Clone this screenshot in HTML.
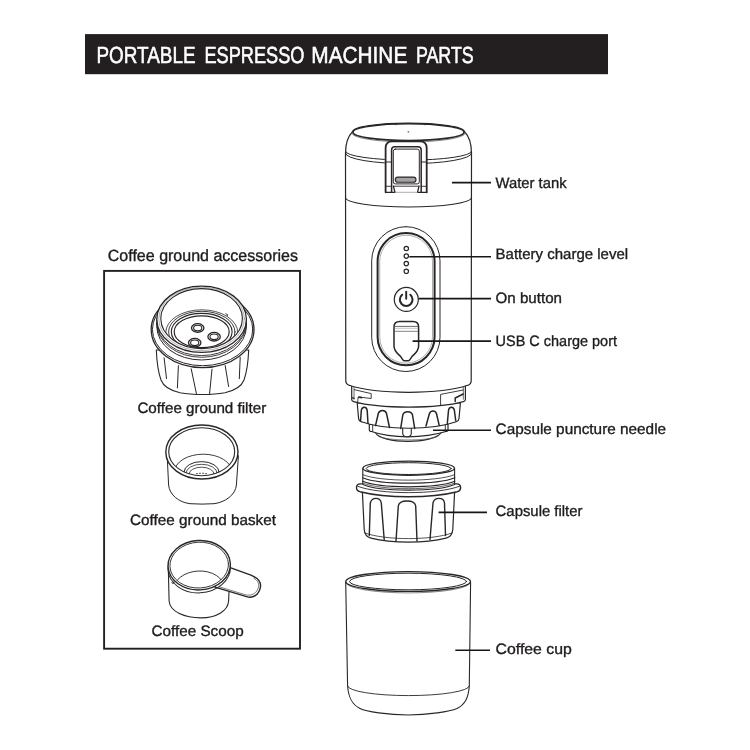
<!DOCTYPE html>
<html><head><meta charset="utf-8"><title>Portable Espresso Machine Parts</title>
<style>
html,body{margin:0;padding:0;background:#fff;}
svg{display:block;will-change:transform}
text{font-family:"Liberation Sans",sans-serif;fill:#1f1b1c;-webkit-font-smoothing:antialiased;text-rendering:geometricPrecision}
.t{font-size:15px;stroke:#1f1b1c;stroke-width:.35px}
.s{fill:none;stroke:#2a2627;stroke-width:1;stroke-linecap:round;stroke-linejoin:round}
.w{fill:#fff;stroke:#2a2627;stroke-width:1;stroke-linecap:round;stroke-linejoin:round}
.th{stroke-width:1.5}
.ld{stroke:#1a1617;stroke-width:1.6;fill:none}
</style></head><body>
<svg width="750" height="750" viewBox="0 0 750 750">
<rect width="750" height="750" fill="#fff"/>
<!-- header -->
<rect x="85" y="34.1" width="523" height="40.1" fill="#231f20"/>
<text x="96.4" y="62.8" style="font-size:23.3px;fill:#fff;stroke:#fff;stroke-width:.55px"><tspan x="96.5" textLength="99" lengthAdjust="spacingAndGlyphs">PORTABLE</tspan> <tspan x="204.4" textLength="100" lengthAdjust="spacingAndGlyphs">ESPRESSO</tspan> <tspan x="311.3" textLength="96" lengthAdjust="spacingAndGlyphs">MACHINE</tspan> <tspan x="415.9" textLength="57.8" lengthAdjust="spacingAndGlyphs">PARTS</tspan></text>

<!-- accessory box -->
<text class="t" x="107.8" y="260.8" style="font-size:16.2px" textLength="190.2" lengthAdjust="spacingAndGlyphs">Coffee ground accessories</text>
<rect x="104.1" y="270.9" width="195.9" height="377.8" fill="none" stroke="#231f20" stroke-width="1.9"/>
<text class="t" x="137.4" y="412.7" textLength="128.8" lengthAdjust="spacingAndGlyphs">Coffee ground filter</text>
<text class="t" x="130" y="525" textLength="146" lengthAdjust="spacingAndGlyphs">Coffee ground basket</text>
<text class="t" x="151.5" y="635.8" textLength="92.2" lengthAdjust="spacingAndGlyphs">Coffee Scoop</text>

<!-- labels -->
<text class="t" x="495.6" y="187.7" textLength="71" lengthAdjust="spacingAndGlyphs">Water tank</text>
<text class="t" x="495.6" y="259.4" textLength="132.5" lengthAdjust="spacingAndGlyphs">Battery charge level</text>
<text class="t" x="495.6" y="303.4" textLength="66.4" lengthAdjust="spacingAndGlyphs">On button</text>
<text class="t" x="495.6" y="345.6" textLength="121.4" lengthAdjust="spacingAndGlyphs">USB C charge port</text>
<text class="t" x="495.6" y="433.5" textLength="170.5" lengthAdjust="spacingAndGlyphs">Capsule puncture needle</text>
<text class="t" x="495.6" y="516.4" textLength="86.9" lengthAdjust="spacingAndGlyphs">Capsule filter</text>
<text class="t" x="495.6" y="654" textLength="76.2" lengthAdjust="spacingAndGlyphs">Coffee cup</text>

<!--BASE-->
<g id="machine-base">
<!-- lower ring bottom ellipse -->
<path class="w" d="M375.300,432.500 C381,444.300 434,444.300 441.300,432.500 Z" style="stroke-width:1.1"/>
<path class="s" d="M378.500,436.300 C386,441.200 430,441.200 438,436.300" style="stroke-width:.7;stroke:#555"/>
<!-- lower ring -->
<path class="w" d="M369.300,424.500 L369.300,430 Q369.300,431 370.500,431.300 C392,438.600 423,438.600 446.800,431.300 Q448,431 448,430 L448,424.500 Z" style="stroke-width:1.2"/>
<path class="s" d="M372.700,425 v6.600 M445.300,425 v6.600" style="stroke-width:.9"/>
<!-- needle -->
<path class="w" d="M402.700,427.500 L402.700,433.300 Q402.700,436.700 407,436.700 Q411.300,436.700 411.300,433.300 L411.300,427.500" style="stroke-width:1.1"/>
<!-- gear section -->
<path class="w" d="M357.200,403 L358.600,418.500 Q358.800,421 361.500,421.800 C385,430.400 432,430.400 456.200,421.800 Q458.800,421 459,418.500 L460.400,403 Z" style="stroke-width:1.2"/>
<!-- teeth -->
<path class="s" d="M360.600,420.500 L361.300,410.500 Q361.800,407.200 364.300,407.200 Q366.800,407.200 367.200,410.500 L368,423.500" style="stroke-width:1.5"/>
<path class="s" d="M375.500,425.600 L378.300,413.500 Q379.200,410.400 382.500,410.400 Q385.800,410.400 386.500,413.500 L389.500,427.500" style="stroke-width:1.5"/>
<path class="s" d="M400.700,428.400 L402.800,415 Q403.600,411.700 407.700,411.700 Q411.800,411.700 412.500,415 L414.700,428.400" style="stroke-width:1.5"/>
<path class="s" d="M426,426 L429.300,414 Q430.200,411 433,411 Q435.800,411 436.600,414 L439.200,425.400" style="stroke-width:1.5"/>
<path class="s" d="M447.300,423.500 L448.500,410.500 Q448.900,407.200 451.400,407.200 Q453.900,407.200 454.400,410.500 L455.700,420.500" style="stroke-width:1.5"/>
<!-- ring 1 -->
<path class="w" d="M351.700,385 L351.700,399.500 Q351.700,401.300 353.700,401.700 C380,409 437,409 463.400,401.700 Q465.400,401.300 465.400,399.500 L465.400,385 Z" style="stroke-width:1.2"/>
<path class="s" d="M354,387.500 L354,399.300" style="stroke-width:.7"/>
<path class="s" d="M463.300,387.500 L463.300,399.300" style="stroke-width:.7"/>
<!-- clips -->
<path class="s" d="M354.400,389.700 L371.200,393.600 L371.200,398.500 L358.200,396.900 L357.700,402" style="stroke-width:.9"/>
<path class="s" d="M359,397.300 L361.500,397.600" style="stroke-width:1.600"/>
<path class="s" d="M352.500,397.800 L354,398.300" style="stroke-width:1.400"/>
<path class="s" d="M463.200,390 L440.600,394.400 L440.600,404.600" style="stroke-width:.9"/>
<path class="s" d="M463.200,394 L455.200,398 L455.200,401.600" style="stroke-width:1.500"/>
</g>
<!--/BASE-->
<!--MACHINE-->
<g id="machine">
<!-- body -->
<path class="w" d="M345.5,153 C345.600,143.500 347.600,136.500 352.700,131.500 A55.600,8.400 0 0 1 464.300,131.500 C469.400,136.500 471.400,143.500 471.5,153 L471.2,380.500 Q471.2,384.300 467.700,385.300 C440,394.600 377,394.600 349.300,385.300 Q345.800,384.300 345.800,380.500 Z" style="stroke-width:1.2"/>
<!-- lid top ellipse -->
<path class="s" d="M351.800,133.300 A56.600,8.700 0 0 0 465.200,133.300" style="stroke-width:.7;stroke:#555"/>
<ellipse class="s" cx="408.5" cy="132.200" rx="55.500" ry="8.400" style="stroke-width:1.6"/>
<path class="s" d="M396,123.400v1.400M425,123.400v1.400" style="stroke-width:.9"/>
<ellipse cx="408.4" cy="131.8" rx="1" ry="0.600" fill="#444"/>
<!-- seam -->
<path class="s" d="M345.5,151.4 A63,8.700 0 0 0 471.5,151.4" style="stroke-width:1"/>
<path class="s" d="M345.5,153.4 A63,10.300 0 0 0 471.5,153.4" style="stroke-width:1"/>
<!-- tank bottom -->
<path class="s" d="M345.5,197.600 A63,9.400 0 0 0 471.5,197.600" style="stroke-width:1.1"/>
<!-- latch -->
<path d="M385.600,192.300 L385.600,148 Q385.600,141.300 392.300,141.300 L420,141.300 Q426.700,141.300 426.700,148 L426.700,192.300 L417.500,192.300 L419,186.200 L393.400,186.200 L395,192.300 Z" fill="#fff"/>
<path class="s" d="M385.600,192.300 L385.600,148 Q385.600,141.300 392.300,141.300 L420,141.300 Q426.700,141.300 426.700,148 L426.700,192.300" style="stroke-width:1.800"/>
<path class="s" d="M385.600,192.300 L395,192.300 L393.400,186.200 M426.700,192.300 L417.500,192.300 L419,186.200" style="stroke-width:1.300"/>
<path class="s" d="M393.400,186.200 L419,186.200" style="stroke-width:.9"/>
<path class="s" d="M391.600,192 L391.600,150 Q391.600,146.800 394.800,146.800 L418,146.800 Q421.200,146.800 421.200,150 L421.200,192" style="stroke-width:1.500"/>
<rect class="s" x="393.300" y="149.100" width="26" height="34.800" rx="2" style="stroke-width:1"/>
<path class="s" d="M385.500,162 L391.600,162 M421.200,162 L426.800,162" style="stroke-width:1"/>
<path class="s" d="M395,192.300 L417.500,192.300" style="stroke-width:.7;stroke:#888"/>
<path class="s" d="M385.500,186.300 L391.600,186.300 M421.200,186.300 L426.800,186.300" style="stroke-width:.9"/>
<rect x="395.300" y="177.100" width="20.700" height="5.200" rx="2.600" fill="#a5a3a3" stroke="#2a2627" stroke-width="1.1"/>
<!-- control panel -->
<rect class="s" x="371.7" y="226.700" width="68.300" height="144.800" rx="34.150" style="stroke-width:1"/>
<rect class="s" x="377.600" y="233.100" width="57" height="132.200" rx="28.500" style="stroke-width:2"/>
<rect class="s" x="379.700" y="235.200" width="52.800" height="128" rx="26.400" style="stroke-width:.6;stroke:#777"/>
<!-- dots -->
<circle class="s" cx="406.300" cy="248.500" r="2.200" style="stroke-width:1.2"/>
<circle class="s" cx="406.300" cy="256.100" r="2.200" style="stroke-width:1.2"/>
<circle class="s" cx="406.300" cy="263.600" r="2.200" style="stroke-width:1.2"/>
<circle class="s" cx="406.300" cy="271.300" r="2.200" style="stroke-width:1.2"/>
<!-- power button -->
<circle class="s" cx="406.300" cy="299.450" r="12" style="stroke-width:1.2"/>
<path class="s" d="M402.100,294.750 A6.350,6.350 0 1 0 410.300,294.750" style="stroke-width:2"/>
<path class="s" d="M406.200,291.800 L406.200,298.700" style="stroke-width:1.9"/>
<!-- usb port -->
<path class="s" d="M394,327.200 Q394,321.600 399.600,321.600 L413,321.600 Q418.600,321.600 418.600,327.200 L418.600,346 C418.600,351.500 414.600,353.800 412.200,356.300 C410.600,358 410.200,360.700 408.300,360.700 L404.300,360.700 C402.400,360.700 402,358 400.400,356.300 C398,353.800 394,351.500 394,346 Z" style="stroke-width:1.5"/>
<path class="s" d="M395,326.400 H417.600" style="stroke-width:.8;stroke:#444"/>
<path class="s" d="M395,328.300 H417.600" style="stroke-width:.6;stroke:#999"/>
<path class="s" d="M395,331.300 H417.600" style="stroke-width:.8;stroke:#666"/>
</g>
<!--/MACHINE-->
<!--FILTERCAP-->
<g id="capfilter">
<!-- body -->
<path class="w" d="M362.300,490 L364.200,529.500 C364.600,534.500 366.500,537 371,538.200 C392,543.500 425,543.500 446,538.200 C450.500,537 452.400,534.500 452.800,529.500 L454.700,490 Z" style="stroke-width:1.2"/>
<path class="s" d="M365,533 C385,540.500 432,540.500 452,533" style="stroke-width:.8"/>
<!-- ribs -->
<path class="s" d="M369.300,535.500 L370.300,503 Q371.500,498.400 376,498.400 Q380.500,498.400 381.300,503 L384.200,539.500" style="stroke-width:1.4"/>
<path class="s" d="M396,541 L398.300,506 Q399,501 407,501 Q415,501 415.700,506 L417,541" style="stroke-width:1.4"/>
<path class="s" d="M430,539.500 L433,503 Q434,498.400 439,498.400 Q444,498.400 444.500,503 L445.500,535.500" style="stroke-width:1.4"/>
<!-- flange -->
<path class="w" d="M356.500,487.700 Q356.500,483.900 360.300,483.900 L456.800,483.900 Q460.600,483.900 460.600,487.700 Q460.600,490.700 457.300,491.700 C430,498.500 387,498.500 360,491.700 Q356.500,490.700 356.500,487.700 Z" style="stroke-width:1.4"/>
<path class="s" d="M357.700,486.300 C380,494.800 437,494.800 459.400,486.300" style="stroke-width:.9"/>
<!-- thread section -->
<path class="w" d="M362.800,468.200 L362.800,484.500 C380,492 437,492 454.600,484.500 L454.600,468.200 Z" style="stroke-width:1.1"/>
<path class="s" d="M362.800,474.700 C380,482 437,482 454.600,474.700" style="stroke-width:.8"/>
<path class="s" d="M362.600,477.700 C380,485 437,485 454.800,477.700" style="stroke-width:1.2"/>
<path class="s" d="M362.600,481.300 C380,488.600 437,488.600 454.800,481.300" style="stroke-width:1.2"/>
<path class="s" d="M363.500,483.300 C380,490.500 437,490.500 454,483.300" style="stroke-width:.7"/>
<!-- top -->
<ellipse class="w" cx="408.700" cy="468.200" rx="45.800" ry="7.100" style="stroke-width:1.3"/>
<ellipse class="s" cx="408.700" cy="468.600" rx="42.500" ry="5.900" style="stroke-width:1"/>
</g>
<!--/FILTERCAP-->
<!--CUP-->
<g id="cup">
<path class="w" d="M345.700,582 L347.600,686 C348.500,698 352,704.500 360,708.500 C366,711.500 388,715 408.100,715 C428,715 450,711.500 457,708.500 C465,704.500 468.400,698 469.300,686 L470.600,582 Z" style="stroke-width:1.1"/>
<path class="s" d="M347.600,686 A60.850,9.600 0 0 0 469.300,686" style="stroke-width:.9"/>
<path class="s" d="M345.800,582.600 A62.300,10.300 0 0 0 470.400,582.600" style="stroke-width:.7;stroke:#555"/>
<ellipse class="w" cx="408.100" cy="581.500" rx="62.300" ry="9.900" style="stroke-width:1.3"/>
<ellipse class="s" cx="408.100" cy="581.500" rx="58.500" ry="8.300" style="stroke-width:1"/>
</g>
<!--/CUP-->
<!--ACC-->
<g id="acc-filter">
<defs><clipPath id="cpf"><ellipse cx="201.600" cy="318.600" rx="40.800" ry="30"/></clipPath></defs>
<!-- body -->
<path class="w" d="M156.300,350 C156.800,362 158.500,373 161,380 C163.500,386.500 170,390.500 180,392.700 C187,394 195,394.500 202.500,394.500 C210,394.500 218,394 225,392.700 C235,390.500 241.500,386.500 244,380 C246.500,373 248.200,362 248.700,350 Z" style="stroke-width:1.1"/>
<path class="s" d="M164.100,357.800 L166.500,378.500 M178.400,365.600 L177.400,388 M191.200,368.800 L196.400,393.600 M212,369.200 L209.600,393.600 M225.200,365.600 L228.600,386.500 M240.200,357.300 L239.300,378.700" style="stroke-width:1"/>
<!-- flange -->
<ellipse class="w" cx="202.600" cy="329.600" rx="51.400" ry="38" style="stroke-width:1.3"/>
<ellipse class="s" cx="202.600" cy="329.400" rx="50.200" ry="36.300" style="stroke-width:1"/>
<!-- neck -->
<path class="w" d="M156.800,319 L156.800,326.500 A44.800,33.500 0 0 0 246.400,326.500 L246.400,319 Z" style="stroke-width:1"/>
<path class="s" d="M156.800,322.100 A44.800,33.500 0 0 0 246.400,322.100 M156.800,323.800 A44.800,33.500 0 0 0 246.400,323.800" style="stroke-width:.9"/>
<!-- top ring -->
<ellipse class="w" cx="201.600" cy="319.300" rx="44.800" ry="33.100" style="stroke-width:1.3"/>
<ellipse class="s" cx="201.600" cy="318.900" rx="42.800" ry="31.700" style="stroke-width:.5;stroke:#666"/>
<ellipse class="w" cx="201.600" cy="318.600" rx="40.800" ry="30" style="stroke-width:1.1"/>
<g clip-path="url(#cpf)">
<ellipse class="s" cx="201.800" cy="332.400" rx="36" ry="22.600" style="stroke-width:.8"/>
<ellipse class="s" cx="201.800" cy="331.900" rx="33.200" ry="20.600" style="stroke-width:.9"/>
<ellipse class="s" cx="201.700" cy="331.750" rx="30.400" ry="18.350" style="stroke-width:1.1"/>
<ellipse class="w" cx="201.700" cy="331.700" rx="27.500" ry="15.900" style="stroke-width:1.2"/>
<path class="s" d="M225.800,313.800 l1.800,.9 l-.4,1.300" style="stroke-width:.9"/>
</g>
<!-- holes -->
<ellipse class="s" cx="197.7" cy="328.0" rx="6.200" ry="4.300" style="stroke-width:1.3"/>
<ellipse class="s" cx="197.7" cy="328.1" rx="4.100" ry="2.800" style="stroke-width:1.1"/>
<ellipse class="s" cx="214.1" cy="336.7" rx="6.200" ry="4.300" style="stroke-width:1.3"/>
<ellipse class="s" cx="214.1" cy="336.8" rx="4.100" ry="2.800" style="stroke-width:1.1"/>
<ellipse class="s" cx="194.7" cy="342.7" rx="6.200" ry="4.300" style="stroke-width:1.3"/>
<ellipse class="s" cx="194.7" cy="342.8" rx="4.100" ry="2.800" style="stroke-width:1.1"/>
</g>
<g id="acc-basket">
<defs><clipPath id="cpb"><ellipse cx="201.700" cy="451.700" rx="33" ry="24"/></clipPath></defs>
<path class="w" d="M167.200,456 L168.600,485 C169.500,495 179,502.300 190,503.700 Q202,504.500 214,503.700 C225,502.300 235.500,495 236.400,485 L238.400,456 Z" style="stroke-width:1"/>
<ellipse class="w" cx="201.900" cy="452" rx="36.100" ry="27" style="stroke-width:1.4"/>
<ellipse class="w" cx="201.700" cy="451.700" rx="33" ry="24" style="stroke-width:1.1"/>
<g clip-path="url(#cpb)">
<ellipse class="s" cx="203.300" cy="472" rx="28.800" ry="17.800" style="stroke-width:.9"/>
<ellipse class="s" cx="201.600" cy="472" rx="17.500" ry="10.400" style="stroke-width:1"/>
<ellipse class="s" cx="201.600" cy="473" rx="15.500" ry="8.700" style="stroke-width:.8"/>
<ellipse class="s" cx="201.600" cy="474" rx="12.500" ry="6.800" style="stroke-width:.8"/>
<path class="s" d="M196.500,473.600 h1 M199.300,473.300 h1.200 M202.500,473.300 h1.200 M205.500,473.600 h1" style="stroke-width:.8"/>
</g>
</g>
<g id="acc-scoop">
<defs><clipPath id="cps"><ellipse cx="199.200" cy="565.100" rx="29.300" ry="22.900" transform="rotate(-3 199.200 565.100)"/></clipPath></defs>
<!-- body -->
<path class="w" d="M168.300,568 L169.100,601 C170,612 185,617.900 201,617.900 C216,617.900 228,611 228.600,601 L230.200,565 Z" style="stroke-width:1.1"/>
<!-- handle -->
<path class="w" d="M229.500,567.300 L250.900,575.100 C257.500,577.800 261.400,582 260.400,587.300 C259,594.200 253.500,598.800 246.500,596.700 L215,587.200 L215,570 Z" style="stroke-width:1.400"/>
<path class="s" d="M219.500,586.900 L245.500,594.800 C251.500,596.400 257.300,593 258.500,587 C259.200,583 257.300,580.300 254,578.300" style="stroke-width:.7;stroke:#444"/>
<ellipse class="w" cx="199.200" cy="568.200" rx="31.200" ry="24.700" transform="rotate(-3 199.200 568.200)" style="stroke-width:1;fill:none"/>
<ellipse class="w" cx="199.200" cy="565.200" rx="31.200" ry="24.700" transform="rotate(-3 199.200 565.200)" style="stroke-width:1.4"/>
<ellipse class="w" cx="199.200" cy="565.100" rx="29.300" ry="22.900" transform="rotate(-3 199.200 565.100)" style="stroke-width:.9"/>
<g clip-path="url(#cps)">
<ellipse class="s" cx="199" cy="589" rx="25.500" ry="18" transform="rotate(-3 199 589)" style="stroke-width:.9"/>
</g>
<circle class="s" cx="172.900" cy="582.700" r="1" style="stroke-width:.7"/>
</g>
<!--/ACC-->
<!--LEADERS-->
<g class="ld">
<path d="M452,182.600 H491"/>
<path d="M409.300,256.700 H491"/>
<path d="M418.800,298.600 H491"/>
<path d="M412.600,341.100 H491"/>
<path d="M433,430.300 H491"/>
<path d="M438.600,512.400 H487"/>
<path d="M455.300,650.300 H490"/>
</g>

</svg>
</body></html>
